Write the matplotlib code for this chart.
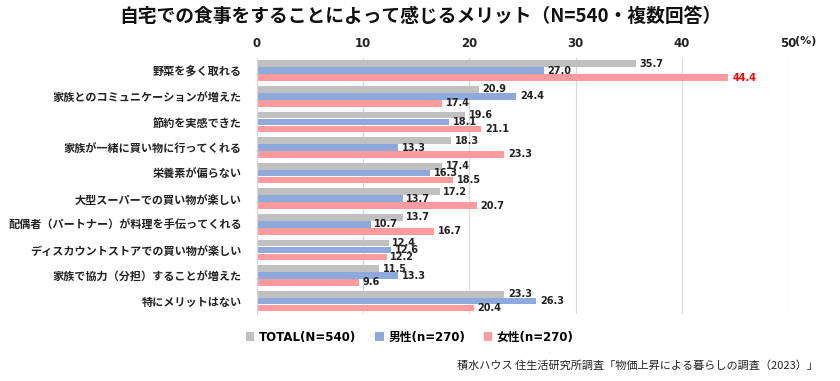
import numpy as np
import matplotlib.pyplot as plt
from matplotlib.patches import Patch

plt.rcParams['font.family'] = ['Noto Sans CJK JP', 'DejaVu Sans']
num_font = ['DejaVu Sans', 'Noto Sans CJK JP']

categories = [
    "野菜を多く取れる",
    "家族とのコミュニケーションが増えた",
    "節約を実感できた",
    "家族が一緒に買い物に行ってくれる",
    "栄養素が偏らない",
    "大型スーパーでの買い物が楽しい",
    "配偶者（パートナー）が料理を手伝ってくれる",
    "ディスカウントストアでの買い物が楽しい",
    "家族で協力（分担）することが増えた",
    "特にメリットはない",
]
total = [35.7, 20.9, 19.6, 18.3, 17.4, 17.2, 13.7, 12.4, 11.5, 23.3]
male = [27.0, 24.4, 18.1, 13.3, 16.3, 13.7, 10.7, 12.6, 13.3, 26.3]
female = [44.4, 17.4, 21.1, 23.3, 18.5, 20.7, 16.7, 12.2, 9.6, 20.4]
series_names = ["TOTAL(N=540)", "男性(n=270)", "女性(n=270)"]
colors = ["#C0C0C0", "#8EA9DB", "#FF9B9E"]

fig = plt.figure(figsize=(8.4, 3.81), dpi=100)
ax = fig.add_axes([0.306, 0.176, 0.632, 0.672])

y = np.arange(len(categories))
h = 0.27
for i, (vals, c) in enumerate(zip([total, male, female], colors)):
    pos = y + (i - 1) * h
    ax.barh(pos, vals, height=h - 0.01, color=c, zorder=2)
    for p, v in zip(pos, vals):
        col = "#FF0000" if v == max(female) and i == 2 else "#222222"
        ax.text(v + 0.35, p, f"{v:.1f}", va="center", ha="left",
                fontsize=7, fontweight="bold", color=col, family=num_font, zorder=3)

ax.set_xlim(0, 50)
ax.set_ylim(len(categories) - 0.5, -0.5)
ax.set_yticks(y)
ax.set_yticklabels(categories, fontsize=8, fontweight="bold", color="#222222")
ax.xaxis.tick_top()
ax.set_xticks([0, 10, 20, 30, 40, 50])
ax.set_xticklabels(["0", "10", "20", "30", "40", "50"], fontsize=8.5,
                   fontweight="bold", color="#222222", family=num_font)
ax.tick_params(length=0)
ax.tick_params(axis="x", pad=6)
ax.tick_params(axis="y", pad=11)
ax.annotate("(%)", xy=(50, 1), xycoords=("data", "axes fraction"),
            xytext=(5, 8.5), textcoords="offset points", fontsize=8,
            fontweight="bold", color="#222222", va="bottom", ha="left",
            family=num_font)

ax.grid(axis="x", color="#D9D9D9", linewidth=0.8, zorder=0)
for s in ["top", "right", "bottom"]:
    ax.spines[s].set_visible(False)
ax.spines["left"].set_color("#D9D9D9")

fig.text(0.5, 0.958, "自宅での食事をすることによって感じるメリット（N=540・複数回答）",
         ha="center", va="center", fontsize=13.5, fontweight="bold", color="#111111")

handles = [Patch(facecolor=c, edgecolor="none") for c in colors]
fig.legend(handles, series_names, loc="center", bbox_to_anchor=(410 / 840, 1 - 337 / 381),
           ncol=3, frameon=False,
           prop={"size": 8.5, "weight": "bold", "family": num_font},
           handlelength=0.7, handleheight=0.7, handletextpad=0.4, columnspacing=1.6)

fig.text(818 / 840, 1 - 366 / 381, "積水ハウス 住生活研究所調査「物価上昇による暮らしの調査（2023）」",
         ha="right", va="center", fontsize=8, color="#222222")

fig.savefig("out.png", dpi=100)
